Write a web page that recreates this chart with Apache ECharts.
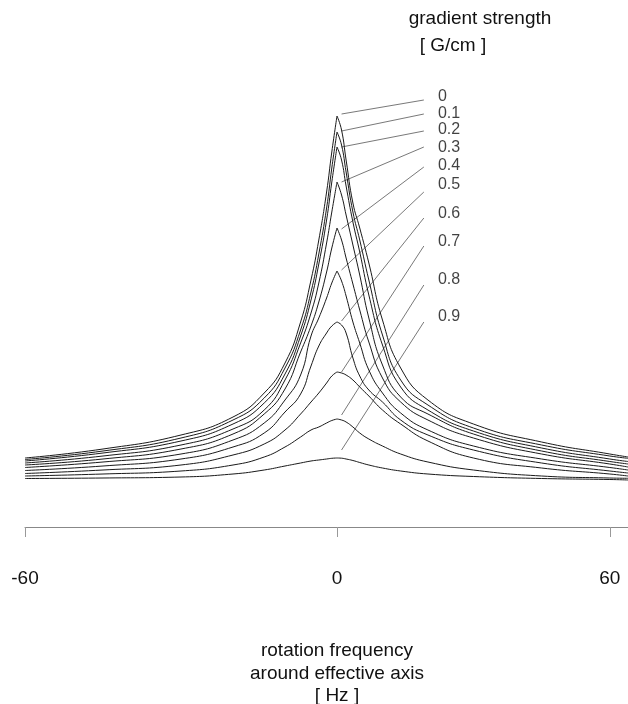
<!DOCTYPE html>
<html>
<head>
<meta charset="utf-8">
<script src="https://cdn.jsdelivr.net/npm/echarts@6/dist/echarts.min.js"></script>
<style>html,body{margin:0;padding:0;background:#fff}#c{width:628px;height:704px}</style>
</head>
<body>
<div id="c"></div>
<script>
// rotation frequency around effective axis [Hz]
const freq = [-60,-45,-30,-20,-14,-10,-7,-5,-3.5,-2,-1,0,1,2,3.5,5,7,10,14,20,30,45,60,64];
// gradient strength [G/cm]
const gradients = ['0','0.1','0.2','0.3','0.4','0.5','0.6','0.7','0.8','0.9'];
// signal (arbitrary units), one array per gradient strength
const s00 = [69,78,92,110,134,164,205,247,287,335,375,411,397,367,324,299,264,207,159,127,103,85,73,70];
const s01 = [67.5,76,89,107,129,159,197,235,273,319,359,395,382,355,315,287,247,192,147,122,99,82,71,68.7];
const s02 = [66,74,86,103,124,153,191,227,263,307,345,380,367,341,305,275,232,182,140,117,96,79,68,65.5];
const s03 = [64,71,82,98,117,147,184,214,244,284,315,345,332,312,282,252,209,162,130,113,93,76,65.5,63];
const s04 = [62,68,78,93,113,138,175,201,225,255,279,299,287,269,243,217,185,149,125,107,89,73,63,60];
const s05 = [59.5,65,73,87,104,127,152,191,209,229,244,256,246,231,205,184,157,134,114,97,81,68,59.5,57];
const s06 = [56.5,61,68,80,94,115,133,161,181,194,201,205,202,194,169,151,137,125,107,92,77,64,56,54];
const s07 = [53.5,57,62,72,83,97,113,125,134,144,151,155,154,152,147,140,131,117,103,86,69,59,53,51];
const s08 = [51,53,56,62,70,80,90,97,100,104,106.5,108,107,105,100,94,88,81,73,65,57,51,49,48.7];
const s09 = [48.5,49,50,53,57,61,64,66,67,68,68.7,69,68.8,68,66.5,64.5,62,59,56,53,50.5,48.5,47.5,47];
const signals = [s00,s01,s02,s03,s04,s05,s06,s07,s08,s09];
// x-axis tick labels
const tickLabelsLeft = [-60];
const tickLabelsRight = [0, 60];

// annotation layout (label text and leader lines), in data units of the right panel
const labelX = 22.2;
const labelY = [430,413,397,379,361,342,313,285,247,210];
const leaderOuterX = 19.1;
const leaderOuterY = [427,413,396,380,360,335,309,281,242,205];
const leaderInnerX = 1.0;
const leaderInnerY = [413,396,380,345,298,257,206,155,112,77];

const FONT = '"Liberation Sans", Arial, Helvetica, sans-serif';
const chart = echarts.init(document.getElementById('c'), null, {renderer: 'canvas'});

const series = [];
signals.forEach((arr, k) => {
  const left = [], right = [];
  freq.forEach((f, i) => {
    if (f <= 0) left.push([f, arr[i]]);
    if (f >= 0) right.push([f, arr[i]]);
  });
  const common = {
    type: 'line', name: gradients[k], showSymbol: false, silent: true,
    smooth: 0.5,
    lineStyle: {color: '#1a1a1a', width: 1}
  };
  series.push(Object.assign({}, common, {data: left, xAxisIndex: 0, yAxisIndex: 0}));
  series.push(Object.assign({}, common, {data: right, xAxisIndex: 1, yAxisIndex: 1}));
});

series.push({
  type: 'lines', coordinateSystem: 'cartesian2d', xAxisIndex: 1, yAxisIndex: 1, silent: true,
  lineStyle: {color: '#555', width: 0.8, opacity: 1},
  data: gradients.map((g, k) => ({coords: [[leaderInnerX, leaderInnerY[k]], [leaderOuterX, leaderOuterY[k]]]}))
});
series.push({
  type: 'scatter', xAxisIndex: 1, yAxisIndex: 1, symbolSize: 0, silent: true,
  data: gradients.map((g, k) => ({value: [labelX, labelY[k]], name: g})),
  label: {show: true, position: [0, 0], align: 'left', verticalAlign: 'middle',
          formatter: p => p.name, fontFamily: FONT, fontSize: 16, color: '#111'}
});

const axisCommon = {
  type: 'value',
  axisLine: {show: true, lineStyle: {color: '#888', width: 1}},
  axisTick: {show: true, length: 10, lineStyle: {color: '#999', width: 1}},
  splitLine: {show: false},
  axisLabel: {fontFamily: FONT, fontSize: 19, color: '#111', margin: 42}
};

chart.setOption({
  animation: false,
  backgroundColor: '#fff',
  grid: [
    {left: 25, width: 312, top: 27, bottom: 177},
    {left: 337, right: 0, top: 27, bottom: 177}
  ],
  xAxis: [
    Object.assign({}, axisCommon, {gridIndex: 0, min: -60, max: 0, interval: 60,
      axisTick: Object.assign({}, axisCommon.axisTick, {customValues: [-60, 0]}),
      axisLabel: Object.assign({}, axisCommon.axisLabel, {customValues: tickLabelsLeft})}),
    Object.assign({}, axisCommon, {gridIndex: 1, min: 0, max: 64, interval: 60,
      axisTick: Object.assign({}, axisCommon.axisTick, {customValues: [0, 60]}),
      axisLabel: Object.assign({}, axisCommon.axisLabel, {customValues: tickLabelsRight})})
  ],
  yAxis: [
    {type: 'value', gridIndex: 0, min: 0, max: 500, show: false},
    {type: 'value', gridIndex: 1, min: 0, max: 500, show: false}
  ],
  graphic: [
    {type: 'text', style: {text: 'gradient strength', x: 480, y: 19, align: 'center', verticalAlign: 'middle', fontFamily: FONT, fontSize: 19, fill: '#111'}},
    {type: 'text', style: {text: '[ G/cm ]', x: 453, y: 46, align: 'center', verticalAlign: 'middle', fontFamily: FONT, fontSize: 19, fill: '#111'}},
    {type: 'text', style: {text: 'rotation frequency', x: 337, y: 651, align: 'center', verticalAlign: 'middle', fontFamily: FONT, fontSize: 19, fill: '#111'}},
    {type: 'text', style: {text: 'around effective axis', x: 337, y: 674, align: 'center', verticalAlign: 'middle', fontFamily: FONT, fontSize: 19, fill: '#111'}},
    {type: 'text', style: {text: '[ Hz ]', x: 337, y: 696, align: 'center', verticalAlign: 'middle', fontFamily: FONT, fontSize: 19, fill: '#111'}}
  ],
  series: series
});
</script>
</body>
</html>
